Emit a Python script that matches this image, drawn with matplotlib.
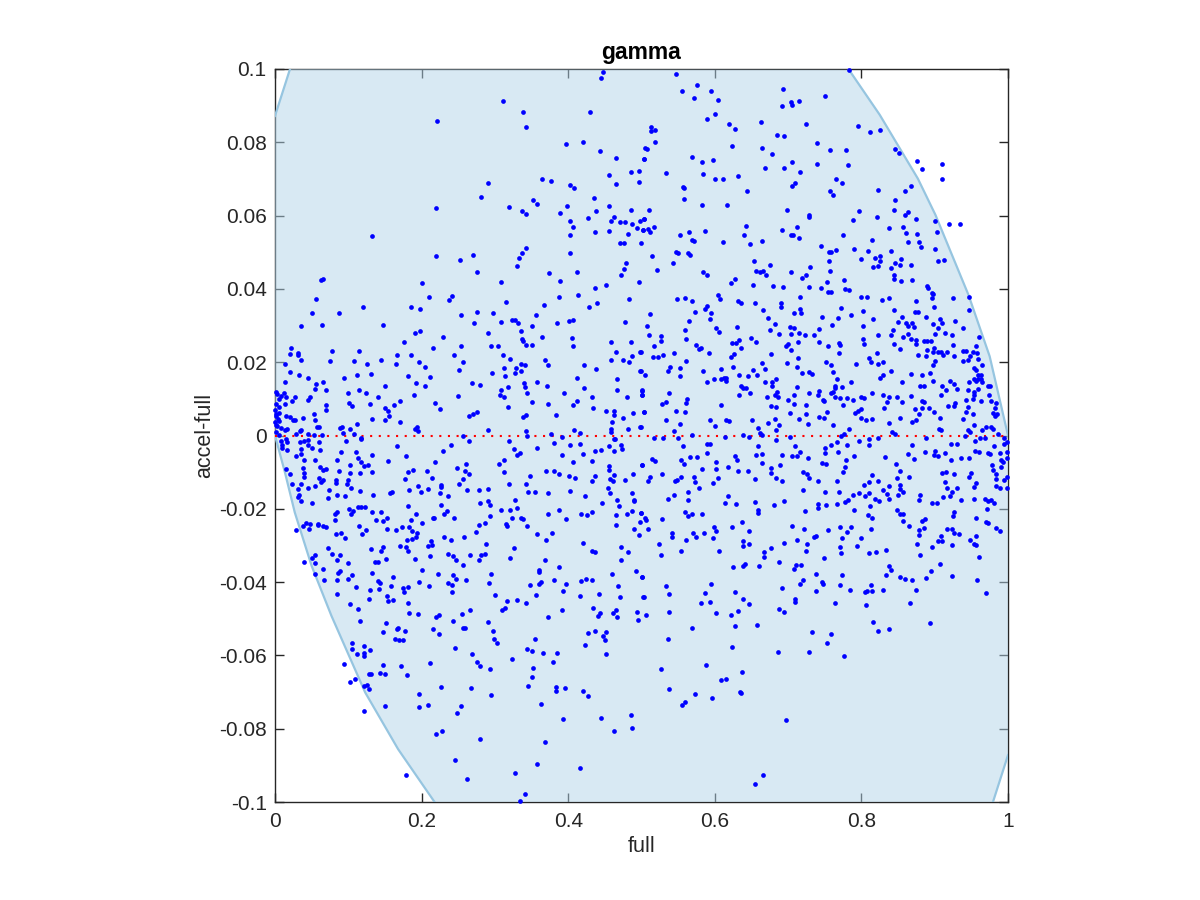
import matplotlib
matplotlib.use('Agg')
import matplotlib.pyplot as plt

plt.rcParams['font.family'] = ['Liberation Sans', 'DejaVu Sans']

# (full, accel-full), one list per part of the plot
upper_left = [(.447,.0991),(.445,.0976),(.311,.0912),(.339,.0882),(.342,.0843),(.430,.0884),(.221,.0858),(.397,.0796),(.420,.0801),(.443,.0777),
(.465,.0757),(.503,.0755),(.505,.0784),(.456,.0711),(.485,.0718),(.497,.0721),(.465,.0686),(.497,.0691),(.291,.0688),(.364,.0700),
(.377,.0695),(.403,.0684),(.408,.0676),(.281,.0651),(.435,.0648),(.319,.0624),(.220,.0622),(.337,.0612),(.342,.0605),(.352,.0643),
(.358,.0632),(.398,.0626),(.389,.0608),(.438,.0612),(.456,.0626),(.485,.0616),(.427,.0593),(.462,.0596),(.458,.0586),(.471,.0582),
(.477,.0582),(.487,.0576),(.498,.0585),(.504,.0590),(.494,.0566),(.502,.0560),(.403,.0585),(.407,.0569),(.403,.0546),(.437,.0555),
(.456,.0557),(.482,.0549),(.470,.0524),(.476,.0524),(.499,.0526),(.132,.0543),(.343,.0511),(.337,.0497),(.333,.0483),(.330,.0462),
(.220,.0491),(.253,.0478),(.270,.0493),(.275,.0447),(.403,.0497),(.374,.0444),(.412,.0447),(.479,.0472),(.476,.0454),(.472,.0439),
(.389,.0421),(.497,.0420),(.309,.0419),(.201,.0416),(.451,.0411),(.437,.0402),(.066,.0427),(.063,.0424),(.056,.0372),(.050,.0335),
(.087,.0335),(.120,.0351),(.210,.0378),(.241,.0381),(.237,.0369),(.186,.0350),(.198,.0346),(.315,.0365),(.387,.0378),(.413,.0383),
(.483,.0372),(.439,.0362),(.428,.0350),(.367,.0356),(.356,.0330),(.254,.0328),(.276,.0336),(.298,.0334),(.324,.0315),(.327,.0314),
(.331,.0308),(.308,.0309),(.271,.0307),(.351,.0300),(.385,.0308),(.401,.0313),(.407,.0314),(.477,.0311),(.035,.0298),(.064,.0302),
(.147,.0302),(.336,.0285),(.198,.0286),(.191,.0279),(.291,.0279),(.229,.0269),(.364,.0270),(.176,.0256),(.337,.0263),(.338,.0257),
(.405,.0265),(.406,.0243),(.458,.0254),(.486,.0254),(.022,.0238),(.020,.0223),(.032,.0225),(.032,.0221),(.035,.0206),(.078,.0230),
(.075,.0203),(.114,.0231),(.108,.0203),(.216,.0239),(.254,.0245),(.294,.0245),(.304,.0245),(.343,.0246),(.350,.0246),(.465,.0227),
(.498,.0227),(.244,.0220),(.166,.0219),(.185,.0219),(.311,.0219),(.487,.0218),(.144,.0206),(.320,.0210),(.368,.0207),(.458,.0205),
(.475,.0207),(.483,.0200),(.196,.0200),(.257,.0200),(.165,.0196),(.126,.0195),(.013,.0195),(.336,.0196),(.341,.0191),(.373,.0191),
(.421,.0193),(.204,.0187),(.312,.0185),(.329,.0185),(.336,.0177),(.328,.0171),(.251,.0178),(.296,.0171),(.438,.0181),(.498,.0176),
(.021,.0173),(.033,.0166),(.112,.0166),(.131,.0167),(.182,.0163),(.211,.0160),(.094,.0158),(.045,.0156),(.314,.0161),(.412,.0156),
(.466,.0154),(.014,.0146),(.065,.0146),(.056,.0141),(.192,.0143),(.269,.0143),(.280,.0138),(.340,.0143),(.357,.0146),(.150,.0136),
(.205,.0136),(.341,.0131),(.371,.0136),(.318,.0132),(.422,.0130),(.054,.0128),(.070,.0124),(.115,.0125),(.466,.0123),(.501,.0122),
(.309,.0123),(.002,.0118),(.012,.0116),(.008,.0109),(.100,.0115),(.124,.0115),(.344,.0115),(.394,.0115),(.501,.0111),(.189,.0110),
(.250,.0108),(.307,.0111),(.312,.0104),(.140,.0106),(.432,.0105),(.480,.0105),(.015,.0105),(.027,.0105),(.048,.0104),(.045,.0097),
(.005,.0100),(.023,.0095),(.171,.0095),(.412,.0095),(.101,.0090),(.218,.0090),(.014,.0087),(.001,.0085),(.372,.0086),(.351,.0091),
(.406,.0084),(.070,.0083),(.130,.0085),(.163,.0084),(.105,.0081),(.006,.0078),(.150,.0076),(.318,.0078),(.434,.0075),(.225,.0073),
(.069,.0069),(.154,.0068),(.452,.0067),(.462,.0068),(.504,.0064),(.006,.0062),(.053,.0060),(.462,.0056),(.489,.0061),(.276,.0064),
(.270,.0059),(.264,.0053),(.342,.0057),(.383,.0055),(.015,.0054),(.156,.0053),(.338,.0050),(.021,.0051),(.038,.0049),(.024,.0043),
(.027,.0042),(.054,.0041),(.133,.0045),(.150,.0041),(.475,.0048),(.460,.0037),(.171,.0037),(.000,.0037),(.005,.0040),(.112,.0032),
(.001,.0052),(.003,.0025),(.057,.0024),(.060,.0024),(.089,.0020),(.092,.0022),(.102,.0019),(.194,.0023),(.191,.0017),(.290,.0016),
(.458,.0019),(.482,.0018),(.498,.0022),(.008,.0020),(.017,.0019),(.013,.0015),(.036,.0016),(.034,.0011),(.342,.0012),(.408,.0015),
(.416,.0007),(.458,.0009),(.377,.0005),(.093,.0006),(.195,.0012),(.045,.0005),(.028,.0003),(.064,.0002),(.053,.0001),(.108,.0005),
(.006,.0001),(.256,-.0001),(.344,.0000),(.392,-.0003),(.117,-.0008),(.464,-.0009),(.003,.0114),(.000,.0070),(.002,.0060),(.004,.0045),
(.001,.0030),(.002,.0010)]

upper_right = [(.547,.0986),(.576,.0955),(.555,.0939),(.572,.0921),(.595,.0941),(.604,.0915),(.693,.0946),(.691,.0899),(.704,.0911),(.706,.0901),
(.715,.0914),(.750,.0927),(.783,.0996),(.589,.0864),(.600,.0877),(.619,.0849),(.627,.0836),(.663,.0856),(.724,.0849),(.795,.0845),
(.812,.0829),(.826,.0834),(.513,.0843),(.513,.0830),(.519,.0833),(.519,.0801),(.685,.0820),(.694,.0818),(.624,.0791),(.507,.0783),
(.664,.0785),(.740,.0797),(.757,.0778),(.779,.0779),(.846,.0783),(.851,.0771),(.678,.0767),(.569,.0760),(.504,.0755),(.582,.0745),
(.597,.0751),(.706,.0746),(.739,.0742),(.876,.0748),(.910,.0741),(.883,.0728),(.782,.0738),(.668,.0730),(.694,.0730),(.533,.0717),
(.716,.0719),(.584,.0713),(.631,.0708),(.600,.0701),(.611,.0700),(.766,.0700),(.910,.0700),(.774,.0689),(.709,.0690),(.705,.0681),
(.556,.0678),(.558,.0675),(.867,.0682),(.644,.0668),(.757,.0668),(.822,.0669),(.859,.0668),(.761,.0655),(.558,.0646),(.846,.0643),
(.582,.0630),(.616,.0630),(.845,.0615),(.510,.0616),(.698,.0615),(.797,.0612),(.864,.0610),(.860,.0601),(.728,.0602),(.729,.0597),
(.821,.0595),(.874,.0591),(.788,.0588),(.900,.0586),(.504,.0590),(.920,.0578),(.934,.0578),(.517,.0569),(.642,.0572),(.712,.0570),
(.857,.0568),(.838,.0566),(.502,.0560),(.509,.0564),(.512,.0554),(.565,.0556),(.586,.0557),(.692,.0562),(.903,.0556),(.552,.0548),
(.640,.0547),(.704,.0548),(.707,.0548),(.775,.0548),(.861,.0552),(.876,.0550),(.715,.0538),(.569,.0534),(.571,.0530),(.665,.0532),
(.815,.0533),(.863,.0529),(.611,.0527),(.648,.0522),(.878,.0527),(.745,.0518),(.881,.0513),(.790,.0510),(.766,.0507),(.900,.0508),
(.756,.0501),(.758,.0500),(.809,.0503),(.841,.0504),(.547,.0501),(.550,.0497),(.563,.0497),(.566,.0493),(.515,.0491),(.826,.0490),
(.800,.0481),(.819,.0483),(.854,.0482),(.913,.0480),(.543,.0472),(.653,.0477),(.756,.0477),(.826,.0477),(.905,.0475),(.846,.0472),
(.675,.0465),(.730,.0461),(.816,.0461),(.822,.0463),(.840,.0458),(.852,.0465),(.868,.0464),(.521,.0451),(.656,.0450),(.666,.0448),
(.662,.0445),(.704,.0447),(.757,.0450),(.670,.0437),(.584,.0445),(.590,.0437),(.845,.0438),(.725,.0437),(.719,.0429),(.845,.0426),
(.854,.0421),(.869,.0425),(.628,.0428),(.622,.0417),(.776,.0425),(.753,.0418),(.652,.0412),(.680,.0409),(.693,.0404),(.729,.0406),
(.745,.0402),(.778,.0400),(.783,.0397),(.889,.0407),(.891,.0403),(.896,.0390),(.897,.0387),(.755,.0392),(.759,.0391),(.716,.0379),
(.799,.0378),(.807,.0377),(.896,.0374),(.925,.0375),(.947,.0378),(.604,.0382),(.607,.0373),(.549,.0373),(.560,.0374),(.569,.0367),
(.632,.0366),(.636,.0361),(.655,.0361),(.690,.0361),(.690,.0351),(.828,.0370),(.837,.0376),(.874,.0366),(.899,.0350),(.589,.0354),
(.587,.0345),(.666,.0342),(.716,.0345),(.772,.0347),(.845,.0342),(.873,.0338),(.877,.0337),(.947,.0343),(.573,.0336),(.595,.0334),
(.708,.0334),(.718,.0335),(.802,.0339),(.512,.0332),(.786,.0330),(.594,.0319),(.673,.0321),(.746,.0324),(.768,.0321),(.816,.0317),
(.855,.0324),(.888,.0322),(.907,.0318),(.565,.0312),(.850,.0309),(.928,.0313),(.861,.0307),(.869,.0307),(.910,.0307),(.897,.0305),
(.864,.0299),(.872,.0297),(.682,.0304),(.760,.0302),(.802,.0299),(.507,.0299),(.630,.0295),(.702,.0296),(.708,.0293),(.904,.0292),
(.939,.0293),(.560,.0289),(.602,.0292),(.606,.0283),(.675,.0288),(.742,.0290),(.843,.0287),(.914,.0281),(.688,.0278),(.704,.0276),
(.715,.0280),(.723,.0275),(.735,.0273),(.841,.0275),(.864,.0277),(.900,.0278),(.510,.0275),(.527,.0271),(.823,.0274),(.923,.0273),
(.961,.0268),(.649,.0265),(.857,.0268),(.867,.0263),(.527,.0259),(.561,.0263),(.633,.0261),(.802,.0263),(.656,.0256),(.714,.0256),
(.875,.0260),(.885,.0258),(.890,.0259),(.895,.0259),(.624,.0252),(.629,.0252),(.742,.0254),(.769,.0253),(.803,.0250),(.845,.0249),
(.874,.0249),(.517,.0244),(.574,.0246),(.697,.0244),(.700,.0250),(.755,.0245),(.771,.0246),(.925,.0247),(.957,.0244),(.581,.0239),
(.578,.0236),(.636,.0239),(.704,.0233),(.852,.0235),(.899,.0239),(.890,.0234),(.499,.0227),(.592,.0226),(.544,.0226),(.898,.0227),
(.905,.0227),(.909,.0227),(.917,.0227),(.938,.0230),(.943,.0230),(.952,.0227),(.958,.0226),(.770,.0226),(.821,.0225),(.530,.0221),
(.523,.0214),(.516,.0213),(.626,.0222),(.676,.0222),(.622,.0214),(.877,.0220),(.911,.0221),(.888,.0216),(.926,.0216),(.948,.0217),
(.713,.0211),(.810,.0211),(.959,.0210),(.946,.0207),(.901,.0204),(.561,.0204),(.939,.0203),(.813,.0200),(.752,.0200),(.830,.0200),
(.665,.0198),(.698,.0198),(.759,.0193),(.793,.0194),(.823,.0194),(.965,.0193),(.539,.0188),(.897,.0191),(.625,.0188),(.712,.0186),
(.552,.0184),(.609,.0182),(.668,.0181),(.953,.0183),(.956,.0178),(.536,.0175),(.584,.0175),(.499,.0176),(.652,.0178),(.841,.0176),
(.719,.0171),(.729,.0172),(.732,.0169),(.761,.0172),(.894,.0171),(.505,.0166),(.633,.0166),(.658,.0165),(.867,.0168),(.883,.0166),
(.959,.0166),(.963,.0166),(.552,.0162),(.645,.0162),(.830,.0164),(.825,.0157),(.599,.0154),(.609,.0154),(.612,.0157),(.615,.0156),
(.615,.0149),(.683,.0154),(.767,.0155),(.953,.0154),(.959,.0154),(.963,.0154),(.897,.0149),(.590,.0145),(.669,.0145),(.678,.0147),
(.786,.0147),(.856,.0146),(.921,.0148),(.947,.0147),(.957,.0150),(.927,.0140),(.964,.0146),(.636,.0136),(.678,.0134),(.712,.0131),
(.764,.0134),(.773,.0133),(.880,.0135),(.885,.0135),(.910,.0136),(.973,.0135),(.976,.0135),(.639,.0129),(.643,.0129),(.764,.0129),
(.915,.0124),(.931,.0126),(.946,.0125),(.959,.0127),(.500,.0123),(.648,.0116),(.685,.0118),(.728,.0117),(.742,.0121),(.759,.0117),
(.761,.0120),(.814,.0115),(.953,.0118),(.501,.0111),(.537,.0116),(.633,.0111),(.682,.0111),(.686,.0106),(.708,.0111),(.741,.0111),
(.764,.0106),(.829,.0110),(.868,.0108),(.909,.0111),(.953,.0111),(.974,.0111),(.671,.0105),(.771,.0101),(.780,.0103),(.799,.0105),
(.804,.0103),(.837,.0104),(.848,.0104),(.700,.0098),(.748,.0098),(.789,.0096),(.562,.0099),(.952,.0099),(.943,.0096),(.528,.0087),
(.534,.0092),(.561,.0088),(.609,.0083),(.708,.0085),(.725,.0084),(.749,.0093),(.775,.0082),(.835,.0091),(.856,.0091),(.882,.0093),
(.886,.0092),(.928,.0090),(.963,.0093),(.977,.0093),(.984,.0090),(.677,.0081),(.684,.0078),(.831,.0076),(.918,.0081),(.926,.0081),
(.945,.0079),(.725,.0059),(.800,.0073),(.873,.0073),(.882,.0075),(.892,.0075),(.982,.0075),(.504,.0065),(.547,.0068),(.559,.0063),
(.703,.0061),(.753,.0064),(.791,.0061),(.796,.0066),(.879,.0059),(.899,.0063),(.943,.0064),(.952,.0060),(.980,.0061),(.985,.0059),
(.982,.0054),(.742,.0050),(.749,.0049),(.799,.0049),(.853,.0048),(.715,.0046),(.907,.0047),(.534,.0043),(.593,.0042),(.615,.0042),
(.620,.0039),(.651,.0043),(.806,.0043),(.815,.0045),(.874,.0042),(.869,.0037),(.939,.0044),(.673,.0035),(.552,.0031),(.600,.0026),
(.688,.0029),(.727,.0031),(.761,.0028),(.838,.0034),(.953,.0028),(.499,.0022),(.682,.0045),(.659,.0021),(.783,.0018),(.970,.0023),
(.977,.0024),(.979,.0017),(.906,.0017),(.909,.0014),(.946,.0015),(.948,.0009),(.964,.0016),(.545,.0013),(.684,.0014),(.842,.0009),
(.846,.0004),(.986,.0005),(.662,.0008),(.665,.0002),(.569,.0001),(.638,.0002),(.702,-.0003),(.776,.0005),(.772,-.0001),(.941,.0000),
(.995,-.0008)]

lower_left = [(.008,-.0014),(.015,-.0010),(.016,-.0017),(.034,-.0017),(.040,-.0015),(.045,-.0011),(.060,-.0017),(.117,-.0009),(.097,-.0015),(.045,-.0026),
(.010,-.0026),(.016,-.0039),(.009,-.0035),(.036,-.0036),(.050,-.0035),(.061,-.0040),(.090,-.0045),(.028,-.0055),(.036,-.0051),(.111,-.0046),
(.132,-.0053),(.167,-.0030),(.240,-.0025),(.229,-.0042),(.179,-.0056),(.265,-.0015),(.319,-.0014),(.326,-.0037),(.357,-.0035),(.381,-.0020),
(.403,-.0025),(.416,-.0023),(.463,-.0010),(.456,-.0029),(.472,-.0026),(.473,-.0037),(.463,-.0041),(.437,-.0041),(.445,-.0040),(.392,-.0054),
(.420,-.0050),(.334,-.0048),(.330,-.0054),(.040,-.0067),(.054,-.0066),(.085,-.0066),(.113,-.0062),(.117,-.0072),(.154,-.0069),(.218,-.0072),
(.313,-.0068),(.305,-.0079),(.261,-.0077),(.406,-.0071),(.433,-.0069),(.456,-.0082),(.500,-.0080),(.102,-.0081),(.122,-.0084),(.127,-.0080),
(.015,-.0092),(.020,-.0105),(.038,-.0089),(.040,-.0103),(.040,-.0114),(.061,-.0086),(.065,-.0093),(.070,-.0092),(.087,-.0097),(.102,-.0102),
(.116,-.0102),(.132,-.0100),(.181,-.0099),(.188,-.0093),(.207,-.0097),(.248,-.0088),(.259,-.0098),(.264,-.0105),(.312,-.0100),(.370,-.0098),
(.381,-.0097),(.387,-.0104),(.455,-.0094),(.463,-.0107),(.488,-.0105),(.060,-.0116),(.066,-.0122),(.063,-.0126),(.083,-.0122),(.100,-.0121),
(.098,-.0131),(.083,-.0130),(.177,-.0120),(.214,-.0115),(.256,-.0119),(.348,-.0111),(.401,-.0111),(.409,-.0117),(.437,-.0111),(.433,-.0125),
(.457,-.0120),(.461,-.0124),(.478,-.0122),(.023,-.0132),(.036,-.0132),(.055,-.0137),(.045,-.0142),(.031,-.0145),(.104,-.0144),(.251,-.0132),
(.319,-.0132),(.343,-.0133),(.226,-.0136),(.227,-.0141),(.195,-.0139),(.183,-.0148),(.199,-.0154),(.209,-.0147),(.159,-.0154),(.157,-.0156),
(.074,-.0149),(.116,-.0151),(.262,-.0150),(.278,-.0148),(.291,-.0146),(.345,-.0155),(.355,-.0155),(.373,-.0157),(.403,-.0151),(.454,-.0144),
(.457,-.0157),(.225,-.0157),(.033,-.0161),(.031,-.0168),(.085,-.0163),(.095,-.0166),(.072,-.0171),(.134,-.0162),(.236,-.0166),(.423,-.0165),
(.487,-.0158),(.035,-.0180),(.050,-.0184),(.328,-.0175),(.291,-.0179),(.280,-.0185),(.293,-.0190),(.466,-.0175),(.490,-.0175),(.490,-.0180),
(.446,-.0184),(.226,-.0189),(.181,-.0193),(.469,-.0193),(.101,-.0200),(.113,-.0195),(.117,-.0195),(.123,-.0195),(.107,-.0206),(.104,-.0213),
(.084,-.0208),(.082,-.0215),(.132,-.0209),(.145,-.0210),(.235,-.0205),(.231,-.0213),(.192,-.0215),(.308,-.0202),(.320,-.0204),(.330,-.0197),
(.388,-.0202),(.373,-.0213),(.417,-.0215),(.425,-.0217),(.432,-.0208),(.465,-.0216),(.480,-.0213),(.487,-.0205),(.499,-.0212),(.082,-.0230),
(.138,-.0230),(.147,-.0234),(.153,-.0225),(.185,-.0230),(.215,-.0224),(.217,-.0224),(.244,-.0225),(.293,-.0220),(.287,-.0239),(.323,-.0226),
(.336,-.0224),(.338,-.0227),(.397,-.0228),(.505,-.0225),(.042,-.0238),(.038,-.0247),(.048,-.0242),(.047,-.0254),(.058,-.0241),(.058,-.0245),
(.065,-.0248),(.069,-.0249),(.114,-.0247),(.124,-.0257),(.200,-.0239),(.183,-.0249),(.173,-.0250),(.165,-.0258),(.153,-.0254),(.278,-.0245),
(.315,-.0241),(.316,-.0246),(.344,-.0247),(.465,-.0245),(.498,-.0236),(.490,-.0254),(.028,-.0259),(.083,-.0268),(.090,-.0267),(.095,-.0280),
(.119,-.0270),(.187,-.0260),(.194,-.0265),(.274,-.0264),(.357,-.0268),(.378,-.0266),(.496,-.0271),(.192,-.0277),(.187,-.0283),(.180,-.0285),
(.230,-.0277),(.240,-.0284),(.258,-.0278),(.370,-.0285),(.213,-.0288),(.214,-.0298),(.209,-.0302),(.288,-.0295),(.420,-.0294),(.171,-.0302),
(.179,-.0304),(.326,-.0306),(.472,-.0305),(.072,-.0307),(.131,-.0311),(.147,-.0304),(.144,-.0316),(.182,-.0316),(.432,-.0316),(.436,-.0318),
(.482,-.0319),(.078,-.0323),(.088,-.0327),(.054,-.0325),(.051,-.0333),(.211,-.0328),(.236,-.0324),(.243,-.0328),(.266,-.0327),(.281,-.0326),
(.287,-.0322),(.321,-.0334),(.084,-.0341),(.151,-.0337),(.191,-.0338),(.247,-.0340),(.278,-.0340),(.368,-.0339),(.472,-.0341),(.039,-.0344),
(.055,-.0348),(.099,-.0348),(.136,-.0346),(.141,-.0345),(.256,-.0354),(.066,-.0364),(.387,-.0358),(.201,-.0367),(.088,-.0370),(.086,-.0375),
(.132,-.0374),(.360,-.0368),(.360,-.0373),(.054,-.0378),(.105,-.0381),(.222,-.0379),(.243,-.0380),(.294,-.0377),(.460,-.0378),(.492,-.0371),
(.501,-.0386),(.067,-.0395),(.085,-.0395),(.099,-.0392),(.161,-.0387),(.247,-.0391),(.261,-.0395),(.380,-.0393),(.417,-.0397),(.424,-.0392),
(.432,-.0395),(.140,-.0397),(.143,-.0402),(.196,-.0400),(.236,-.0403),(.241,-.0409),(.292,-.0403),(.363,-.0401),(.360,-.0406),(.397,-.0404),
(.348,-.0408),(.111,-.0414),(.158,-.0410),(.181,-.0413),(.174,-.0416),(.176,-.0427),(.210,-.0410),(.468,-.0412),(.129,-.0421),(.142,-.0419),
(.242,-.0427),(.393,-.0424),(.084,-.0432),(.153,-.0438),(.300,-.0435),(.356,-.0435),(.416,-.0438),(.442,-.0433),(.471,-.0441),(.502,-.0442),
(.128,-.0445),(.154,-.0451),(.161,-.0449),(.330,-.0449),(.316,-.0452),(.343,-.0456),(.102,-.0459),(.182,-.0456),(.113,-.0474),(.434,-.0470),
(.314,-.0472),(.310,-.0476),(.266,-.0476),(.391,-.0476),(.183,-.0484),(.195,-.0487),(.255,-.0486),(.443,-.0483),(.441,-.0492),(.465,-.0476),
(.461,-.0483),(.494,-.0482),(.466,-.0495),(.372,-.0494),(.224,-.0491),(.219,-.0496),(.116,-.0506),(.243,-.0506),(.152,-.0512),(.290,-.0508),
(.495,-.0504),(.168,-.0525),(.166,-.0528),(.256,-.0525),(.259,-.0525),(.216,-.0528),(.147,-.0537),(.177,-.0534),(.224,-.0542),(.297,-.0534),
(.427,-.0538),(.437,-.0534),(.451,-.0537),(.447,-.0547),(.450,-.0557),(.164,-.0554),(.169,-.0559),(.175,-.0557),(.299,-.0556),(.303,-.0567),
(.355,-.0554),(.105,-.0565),(.423,-.0571),(.122,-.0575),(.105,-.0583),(.130,-.0585),(.246,-.0580),(.112,-.0597),(.122,-.0594),(.122,-.0602),
(.344,-.0583),(.350,-.0587),(.365,-.0594),(.385,-.0594),(.269,-.0595),(.451,-.0597),(.323,-.0610),(.275,-.0617),(.211,-.0622),(.379,-.0619),
(.094,-.0624),(.147,-.0625),(.172,-.0628),(.279,-.0628),(.293,-.0637),(.352,-.0635),(.128,-.0651),(.131,-.0651),(.143,-.0649),(.150,-.0651),
(.180,-.0654),(.351,-.0658),(.109,-.0665),(.103,-.0672),(.125,-.0681),(.121,-.0683),(.128,-.0693),(.226,-.0686),(.268,-.0689),(.345,-.0683),
(.384,-.0686),(.384,-.0697),(.396,-.0689),(.420,-.0697),(.427,-.0710),(.197,-.0706),(.294,-.0709),(.209,-.0734),(.197,-.0740),(.150,-.0737),
(.254,-.0739),(.248,-.0756),(.363,-.0733),(.121,-.0751),(.486,-.0763),(.445,-.0771),(.393,-.0774),(.228,-.0805),(.220,-.0815),(.462,-.0805),
(.487,-.0798),(.279,-.0829),(.368,-.0836),(.245,-.0885),(.357,-.0895),(.416,-.0906),(.327,-.0922),(.179,-.0925),(.262,-.0938),(.341,-.0977),
(.334,-.0998)]

lower_right = [(.517,-.0006),(.530,-.0007),(.550,-.0007),(.614,-.0003),(.647,-.0005),(.684,-.0012),(.811,-.0010),(.823,-.0008),(.556,-.0030),(.590,-.0024),
(.594,-.0023),(.659,-.0029),(.710,-.0030),(.750,-.0035),(.758,-.0025),(.767,-.0019),(.781,-.0026),(.797,-.0015),(.811,-.0027),(.869,-.0025),
(.888,-.0008),(.922,-.0023),(.930,-.0023),(.955,-.0015),(.962,-.0008),(.968,-.0007),(.981,-.0028),(.995,-.0023),(.999,-.0017),(.515,-.0063),
(.519,-.0069),(.500,-.0080),(.554,-.0066),(.558,-.0079),(.566,-.0058),(.576,-.0060),(.590,-.0048),(.601,-.0072),(.628,-.0056),(.630,-.0068),
(.618,-.0085),(.656,-.0054),(.664,-.0051),(.664,-.0074),(.689,-.0080),(.692,-.0054),(.705,-.0056),(.712,-.0056),(.716,-.0045),(.727,-.0062),
(.746,-.0075),(.752,-.0077),(.751,-.0048),(.768,-.0044),(.779,-.0066),(.777,-.0085),(.790,-.0055),(.832,-.0060),(.847,-.0077),(.863,-.0051),
(.872,-.0065),(.887,-.0045),(.899,-.0053),(.901,-.0041),(.904,-.0055),(.914,-.0047),(.922,-.0068),(.936,-.0061),(.947,-.0061),(.955,-.0042),
(.960,-.0045),(.973,-.0048),(.976,-.0051),(.989,-.0047),(.998,-.0045),(.991,-.0066),(.993,-.0072),(.998,-.0062),(.978,-.0080),(.990,-.0086),
(.980,-.0095),(.983,-.0105),(.983,-.0118),(.998,-.0112),(.995,-.0122),(.998,-.0143),(.983,-.0139),(.989,-.0143),(.910,-.0102),(.916,-.0099),
(.927,-.0106),(.950,-.0102),(.947,-.0113),(.914,-.0126),(.957,-.0129),(.917,-.0143),(.931,-.0143),(.954,-.0140),(.924,-.0153),(.921,-.0165),
(.912,-.0169),(.896,-.0185),(.903,-.0183),(.880,-.0161),(.879,-.0175),(.936,-.0177),(.953,-.0174),(.969,-.0173),(.973,-.0178),(.977,-.0175),
(.981,-.0185),(.972,-.0200),(.926,-.0209),(.925,-.0219),(.956,-.0224),(.970,-.0236),(.973,-.0239),(.983,-.0252),(.989,-.0261),(.512,-.0113),
(.509,-.0125),(.528,-.0106),(.546,-.0124),(.549,-.0122),(.554,-.0113),(.572,-.0114),(.573,-.0128),(.578,-.0143),(.598,-.0129),(.604,-.0115),
(.583,-.0092),(.601,-.0092),(.632,-.0097),(.645,-.0096),(.655,-.0119),(.677,-.0090),(.677,-.0101),(.683,-.0116),(.692,-.0124),(.720,-.0099),
(.726,-.0105),(.729,-.0115),(.741,-.0124),(.767,-.0125),(.775,-.0100),(.814,-.0108),(.823,-.0123),(.804,-.0135),(.811,-.0127),(.837,-.0137),
(.829,-.0148),(.852,-.0096),(.849,-.0115),(.852,-.0135),(.852,-.0145),(.857,-.0155),(.865,-.0112),(.850,-.0163),(.838,-.0172),(.835,-.0159),
(.811,-.0157),(.805,-.0164),(.797,-.0156),(.789,-.0162),(.782,-.0175),(.778,-.0182),(.819,-.0172),(.824,-.0179),(.812,-.0191),(.720,-.0148),
(.751,-.0155),(.770,-.0153),(.564,-.0155),(.545,-.0162),(.536,-.0174),(.564,-.0177),(.618,-.0165),(.614,-.0185),(.629,-.0187),(.655,-.0182),
(.695,-.0180),(.681,-.0190),(.741,-.0187),(.741,-.0197),(.752,-.0189),(.767,-.0187),(.790,-.0204),(.723,-.0206),(.659,-.0204),(.659,-.0211),
(.559,-.0210),(.564,-.0221),(.569,-.0215),(.582,-.0215),(.528,-.0227),(.506,-.0230),(.499,-.0211),(.509,-.0256),(.849,-.0204),(.853,-.0215),
(.857,-.0215),(.809,-.0218),(.814,-.0225),(.857,-.0233),(.865,-.0247),(.887,-.0227),(.882,-.0232),(.885,-.0253),(.879,-.0258),(.637,-.0235),
(.599,-.0251),(.624,-.0249),(.602,-.0260),(.646,-.0261),(.705,-.0246),(.722,-.0254),(.755,-.0257),(.771,-.0251),(.786,-.0251),(.781,-.0262),
(.813,-.0255),(.917,-.0256),(.923,-.0254),(.927,-.0265),(.933,-.0270),(.570,-.0265),(.585,-.0265),(.541,-.0267),(.541,-.0277),(.574,-.0277),
(.598,-.0281),(.561,-.0285),(.639,-.0288),(.639,-.0302),(.647,-.0295),(.524,-.0295),(.526,-.0325),(.554,-.0315),(.606,-.0314),(.738,-.0275),
(.735,-.0278),(.712,-.0285),(.694,-.0293),(.726,-.0295),(.774,-.0279),(.800,-.0279),(.879,-.0271),(.908,-.0273),(.904,-.0289),(.910,-.0288),
(.948,-.0286),(.956,-.0275),(.953,-.0295),(.957,-.0298),(.876,-.0295),(.896,-.0303),(.924,-.0299),(.794,-.0302),(.771,-.0305),(.772,-.0320),
(.725,-.0315),(.676,-.0308),(.667,-.0317),(.667,-.0332),(.811,-.0320),(.820,-.0318),(.834,-.0313),(.880,-.0325),(.749,-.0333),(.961,-.0331),
(.625,-.0360),(.641,-.0350),(.639,-.0356),(.660,-.0357),(.688,-.0345),(.708,-.0364),(.711,-.0353),(.718,-.0354),(.837,-.0356),(.840,-.0367),
(.907,-.0351),(.895,-.0369),(.501,-.0386),(.833,-.0381),(.853,-.0385),(.860,-.0392),(.869,-.0393),(.888,-.0389),(.924,-.0383),(.958,-.0394),
(.738,-.0379),(.773,-.0380),(.721,-.0395),(.716,-.0405),(.746,-.0401),(.747,-.0405),(.771,-.0408),(.813,-.0408),(.533,-.0411),(.595,-.0406),
(.538,-.0433),(.587,-.0429),(.628,-.0428),(.691,-.0416),(.738,-.0424),(.785,-.0422),(.805,-.0427),(.808,-.0425),(.815,-.0424),(.830,-.0421),
(.875,-.0421),(.970,-.0431),(.503,-.0442),(.581,-.0456),(.594,-.0455),(.638,-.0445),(.647,-.0459),(.709,-.0447),(.709,-.0455),(.764,-.0458),
(.806,-.0462),(.866,-.0456),(.537,-.0481),(.506,-.0491),(.601,-.0485),(.622,-.0489),(.631,-.0480),(.688,-.0473),(.695,-.0481),(.628,-.0521),
(.658,-.0518),(.569,-.0526),(.816,-.0509),(.894,-.0511),(.837,-.0528),(.823,-.0534),(.732,-.0535),(.759,-.0542),(.536,-.0555),(.753,-.0566),
(.624,-.0577),(.686,-.0592),(.729,-.0590),(.776,-.0603),(.527,-.0636),(.588,-.0625),(.637,-.0645),(.609,-.0667),(.615,-.0664),(.537,-.0691),
(.573,-.0706),(.634,-.0700),(.636,-.0703),(.596,-.0717),(.559,-.0726),(.555,-.0734),(.697,-.0775),(.666,-.0927),(.655,-.0952)]

# edges of the shaded band
lower_edge_x = [0, .0136, .027, .050, .077, .123, .168, .218]
lower_edge_y = [0, -.0101, -.021, -.0356, -.0492, -.0701, -.0856, -.1001]
upper_edge_x = [.783, .825, .877, .901, .946, .975, 1]
upper_edge_y = [.0998, .0875, .0701, .0602, .0384, .0216, 0]
corner_x = [0, .0205]
corner_y = [.0872, .1]
xticks = [0, .2, .4, .6, .8, 1]
xticklabels = ['0', '0.2', '0.4', '0.6', '0.8', '1']
yticks = [-.1, -.08, -.06, -.04, -.02, 0, .02, .04, .06, .08, .1]
yticklabels = ['-0.1', '-0.08', '-0.06', '-0.04', '-0.02', '0', '0.02', '0.04', '0.06', '0.08', '0.1']

points = upper_left + upper_right + lower_left + lower_right
full = [p[0] for p in points]
accel = [p[1] for p in points]

fig = plt.figure(figsize=(12, 9), dpi=100)
ax = fig.add_axes([275/1200, 98/900, 733/1200, 733/900])

# band sits over the axes box, so the box looks washed out under it
poly_x = corner_x + upper_edge_x + [1 - v for v in corner_x] + lower_edge_x[::-1]
poly_y = corner_y + upper_edge_y + [-v for v in corner_y] + lower_edge_y[::-1]
ax.fill(poly_x, poly_y, facecolor=(0.70, 0.83, 0.91, 0.5), edgecolor='none', zorder=3)
edge = '#96c5e0'
ax.plot(lower_edge_x, lower_edge_y, color=edge, lw=1.6, zorder=4)
ax.plot(upper_edge_x, upper_edge_y, color=edge, lw=1.6, zorder=4)
ax.plot(corner_x, corner_y, color=edge, lw=1.6, zorder=4)
ax.plot([1 - v for v in corner_x], [-v for v in corner_y], color=edge, lw=1.6, zorder=4)

ax.plot([0, 1], [0, 0], color='red', lw=1.5, ls=(0, (1, 3.15)), zorder=5)
ax.plot(full, accel, 'o', color='#0000ff', ms=3.4, mew=0, clip_on=False, zorder=6)

ax.set_xlim(0, 1)
ax.set_ylim(-.1, .1)
ax.set_xticks(xticks)
ax.set_xticklabels(xticklabels)
ax.set_yticks(yticks)
ax.set_yticklabels(yticklabels)
ax.set_axisbelow(True)
ax.tick_params(direction='in', top=True, right=True, length=6.5, width=1, color='#262626',
               labelcolor='#262626', labelsize=15)
ax.tick_params(axis='x', pad=7)
ax.tick_params(axis='y', pad=6)
for s in ax.spines.values():
    s.set_linewidth(1)
    s.set_color('#262626')
    s.set_zorder(1)

ax.set_xlabel('full', fontsize=15.5, color='#262626', labelpad=4)
ax.set_ylabel('accel-full', fontsize=15.5, color='#262626', labelpad=3)
ax.set_title('gamma', fontsize=16.5, fontweight='bold', pad=7)

fig.savefig('out.png', dpi=100)
